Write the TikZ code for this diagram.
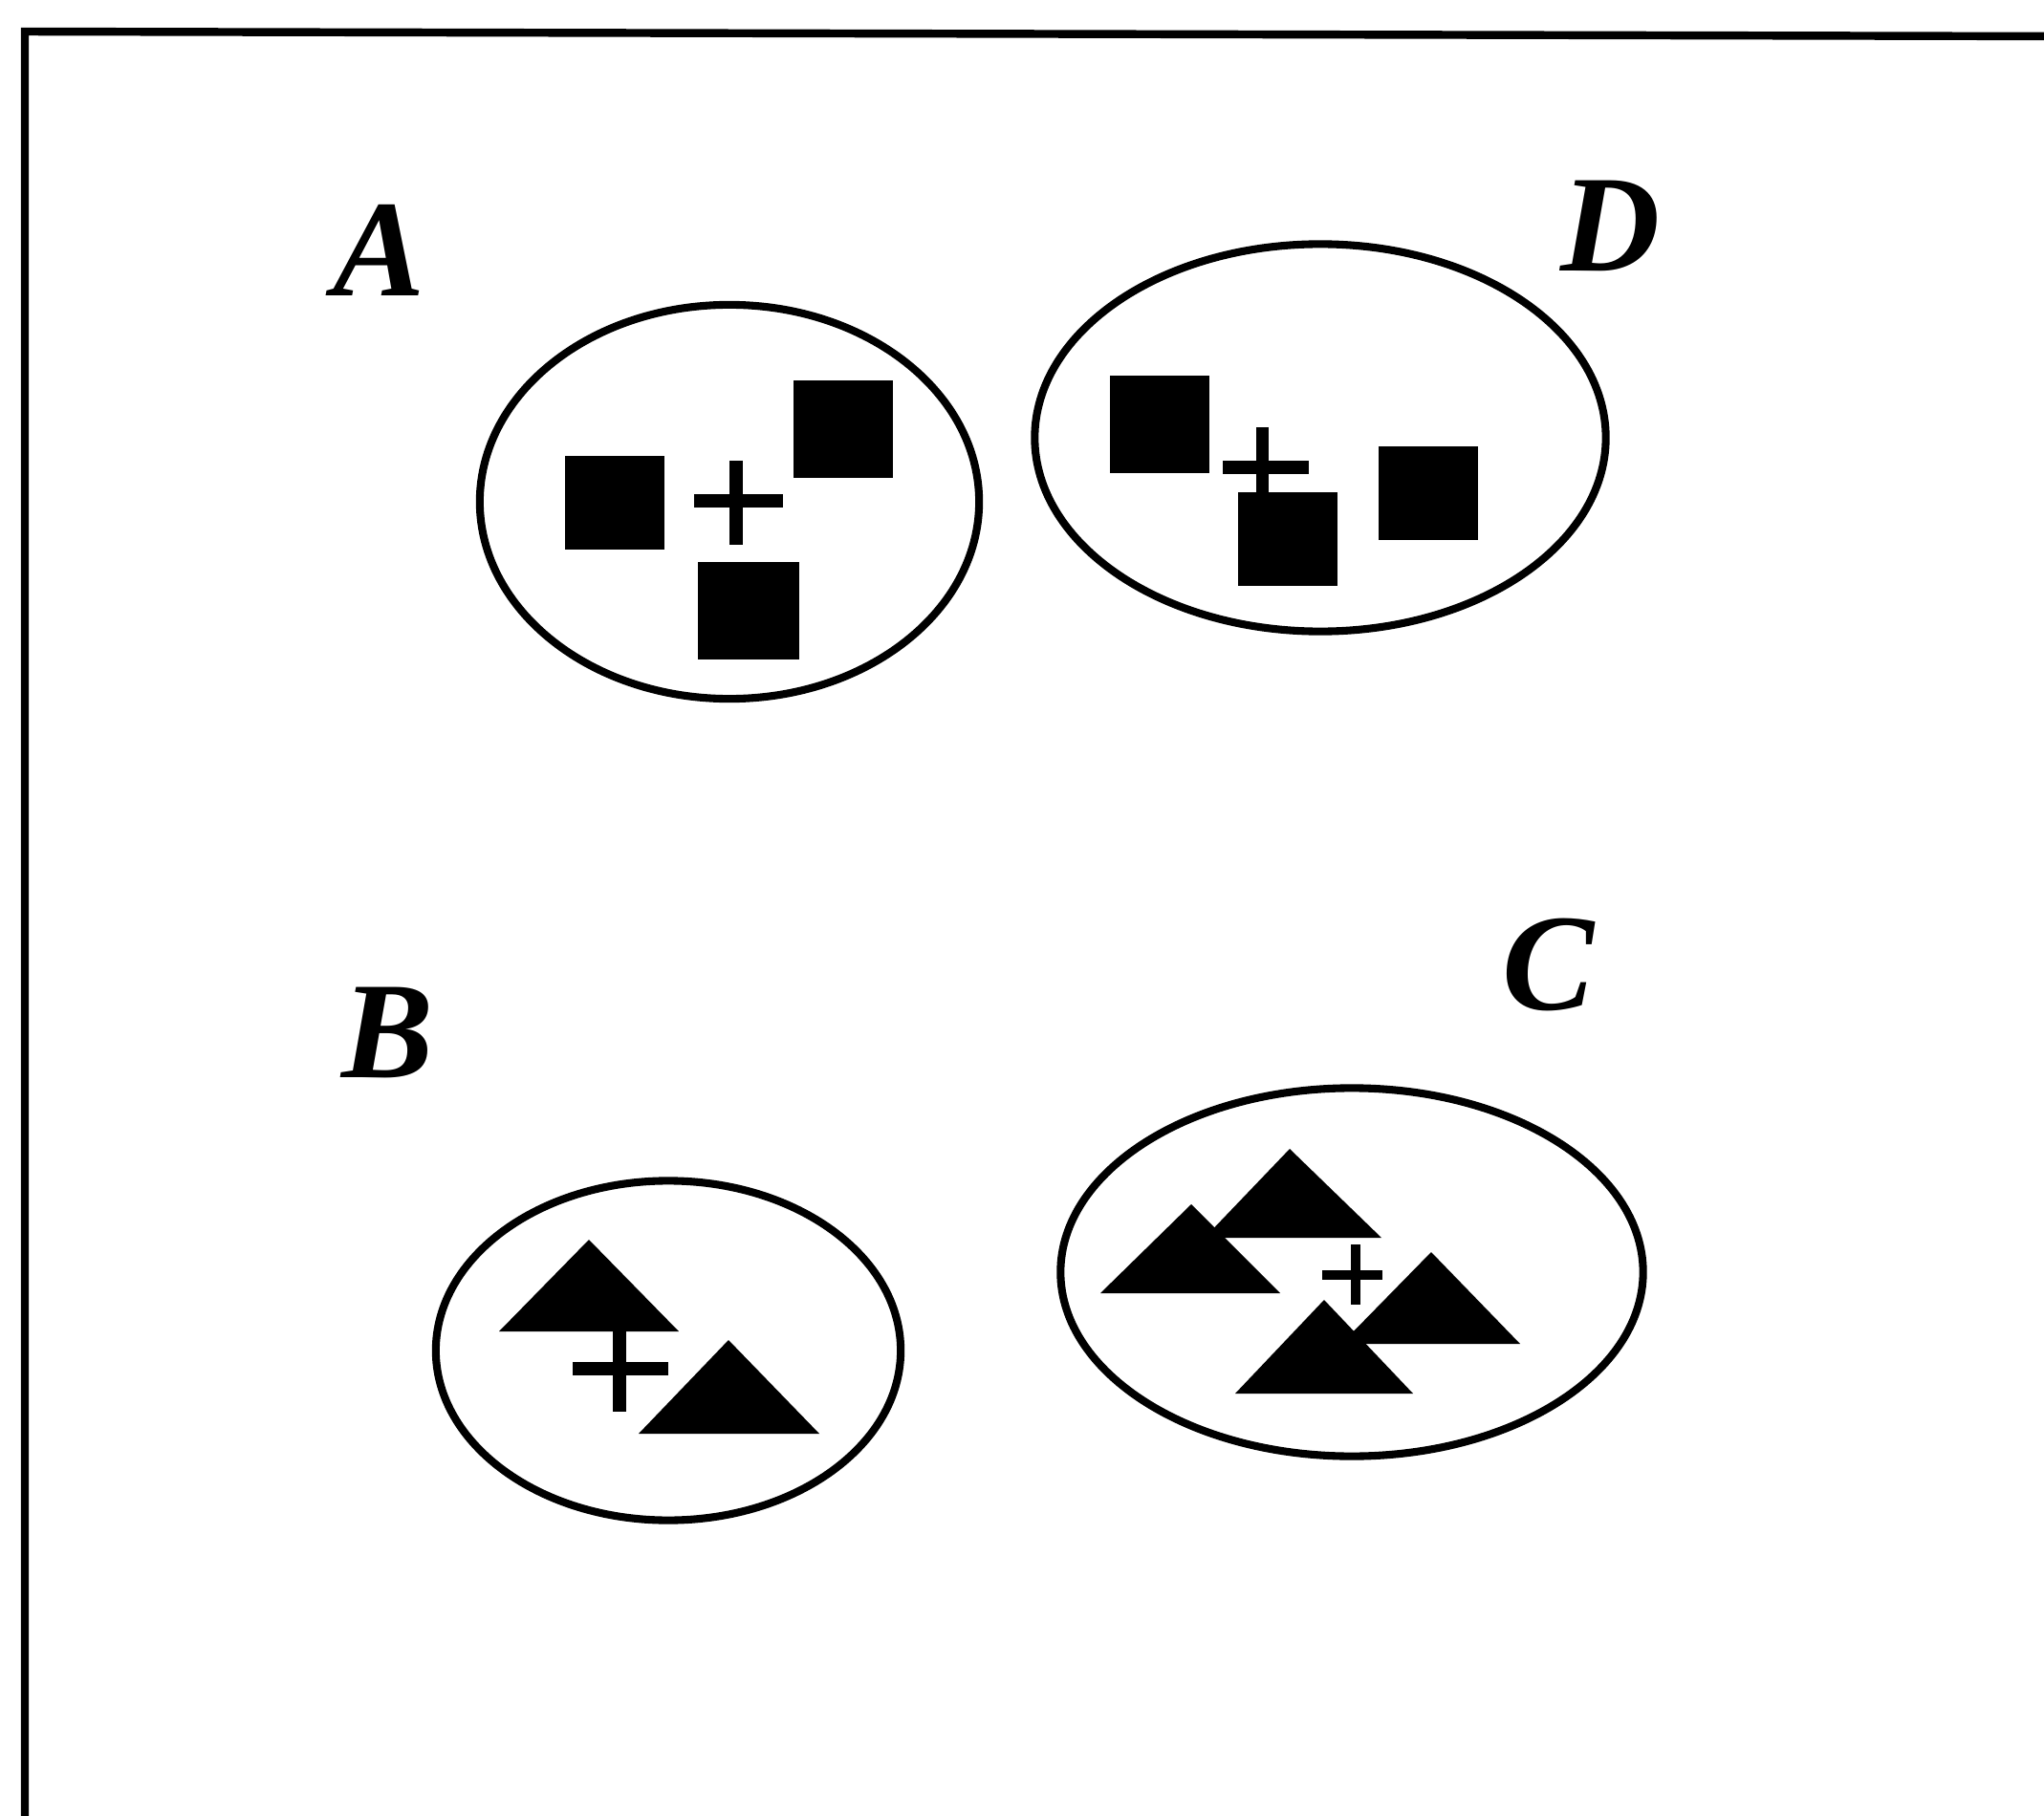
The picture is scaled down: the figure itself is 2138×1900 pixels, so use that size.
\documentclass[tikz,border=0pt]{standalone}
\usepackage{fontspec}
\setmainfont{Liberation Serif}
\usetikzlibrary{shapes.geometric}

\begin{document}
\begin{tikzpicture}[x=0.01cm,y=-0.01cm]
\tikzstyle{clu}=[draw,ellipse,line width=2.3pt,inner sep=0pt]
\tikzstyle{sq}=[fill=black,inner sep=0pt]
\tikzstyle{pl}=[line width=3.7pt]
\tikzstyle{tri}=[fill=black]
\tikzstyle{lab}=[inner sep=0pt,font=\fontsize{41}{41}\selectfont\bfseries\itshape]
\useasboundingbox (0,0) rectangle (2138,1900);
% frame, only left and top edges visible
\draw[line width=2.4pt] (26,1920) -- (26,33) -- (2160,38);
% labels
\node[lab] (labA) at (397,262) {A};
\node[lab] (labD) at (1685,236) {D};
\node[lab] (labB) at (406,1081) {B};
\node[lab] (labC) at (1620,1009) {C};
% cluster A
\node[clu,minimum width=5.22cm,minimum height=4.12cm] (cA) at (763,525) {};
\node[sq,minimum width=1.03cm,minimum height=0.97cm] (a1) at (643,526) {};
\node[sq,minimum width=1.03cm,minimum height=1.02cm] (a2) at (882,449) {};
\node[sq,minimum width=1.05cm,minimum height=1.01cm] (a3) at (783,639) {};
\draw[pl] (726,524) -- (819,524) (770,482) -- (770,570);
% cluster D
\node[clu,minimum width=5.97cm,minimum height=4.05cm] (cD) at (1381,458) {};
\node[sq,minimum width=1.03cm,minimum height=1.01cm] (d1) at (1213,444) {};
\node[sq,minimum width=1.03cm,minimum height=0.98cm] (d2) at (1347,564) {};
\node[sq,minimum width=1.03cm,minimum height=0.98cm] (d3) at (1494,516) {};
\draw[pl] (1279,489) -- (1369,489) (1320,447) -- (1320,515);
% cluster B
\node[clu,minimum width=4.86cm,minimum height=3.55cm] (cB) at (699,1413) {};
\fill[tri] (616,1297) -- (710,1393) -- (522,1393) -- cycle;
\fill[tri] (762,1402) -- (857,1500) -- (668,1500) -- cycle;
\draw[pl,line width=3.9pt] (599,1432) -- (699,1432) (648,1393) -- (648,1477);
% cluster C
\node[clu,minimum width=6.09cm,minimum height=3.85cm] (cC) at (1414,1331) {};
\fill[tri] (1246,1260) -- (1339,1353) -- (1151,1353) -- cycle;
\fill[tri] (1349,1202) -- (1445,1295) -- (1260,1295) -- cycle;
\fill[tri] (1497,1310) -- (1590,1406) -- (1403,1406) -- cycle;
\fill[tri] (1385,1360) -- (1478,1458) -- (1292,1458) -- cycle;
\draw[pl,line width=3pt] (1383,1334) -- (1446,1334) (1418,1302) -- (1418,1365);
\end{tikzpicture}
\end{document}
